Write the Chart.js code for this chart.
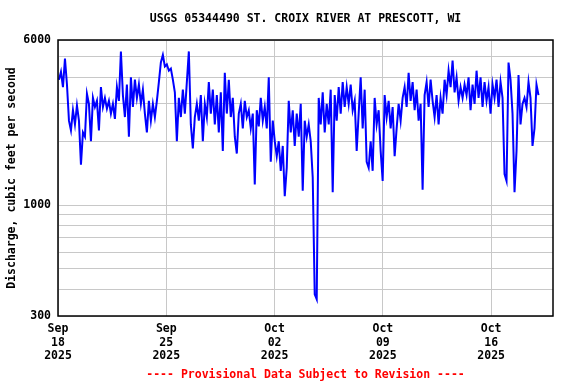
<!DOCTYPE html>
<html>
<head>
<meta charset="utf-8">
<script src="https://cdn.jsdelivr.net/npm/chart.js@4"></script>
<style>
  html, body { margin: 0; padding: 0; background: #fff; }
  #wrap { width: 576px; height: 384px; }
</style>
</head>
<body>
<div id="wrap"><canvas id="flowChart" width="576" height="384"></canvas></div>
<script>
// discharge readings (cfs), one every ~3.1 h starting Sep 18 01:30
const startHour = 1.5;
const stepHours = 3.1;
const discharge = [
  3900, 4250, 3600, 4900, 3700, 2500, 2250, 2800, 2400, 2950,
  2500, 1550, 2200, 2100, 3350, 3000, 2000, 3200, 2900, 3100,
  2250, 3600, 2900, 3200, 2850, 3100, 2700, 3000, 2550, 3600,
  3100, 5300, 3300, 2600, 3700, 2100, 4000, 2900, 3900, 3200,
  3700, 3000, 3500, 2700, 2200, 3100, 2500, 3000, 2600, 3100,
  // Sep 25 ->
  3800, 4700, 5100, 4500, 4600, 4300, 4400, 3900, 3400, 2000,
  3200, 2600, 3500, 2700, 3800, 5300, 2400, 1850, 2600, 3000,
  2500, 3300, 2000, 3000, 2600, 3800, 2700, 3500, 2400, 3300,
  2200, 3400, 1800, 4200, 2700, 3900, 2600, 3200, 2100, 1750,
  2700, 3000, 2300, 3100, 2600, 2800, 2300, 2700, 1250,
  // Oct 2 ->
  2800, 2350, 3200, 2500, 2900, 2300, 4000, 1600, 2500, 2000,
  1700, 2000, 1450, 1900, 1100, 1500, 3100, 2200, 2800, 1900,
  2700, 2100, 3000, 1170, 2500, 2100, 2400, 2000, 1350, 380,
  360, 3200, 2400, 3400, 2200, 3000, 2400, 3500, 1150, 3300,
  2500, 3600, 2700, 3800, 2900, 3600, 3000, 3700, 2800,
  // Oct 9 ->
  3100, 1800, 2700, 4000, 2300, 3500, 1600, 1500, 2000, 1450,
  3200, 2400, 2800, 1800, 1300, 3300, 2600, 3100, 2300, 2900,
  1700, 2300, 3000, 2500, 3200, 3600, 2900, 4200, 3100, 3800,
  2800, 3500, 2500, 3000, 1180, 3300, 3800, 2900, 3900, 3100,
  2600, 3300, 2400, 3200, 2700, 3900, 3300, 4300, 3600,
  // Oct 16 ->
  4800, 3400, 4000, 3100, 3600, 3200, 3700, 3300, 4000, 2800,
  3700, 3000, 4300, 3200, 4000, 2900, 3800, 3100, 3600, 2700,
  3700, 3200, 3900, 2900, 3800, 3200, 1400, 1300, 4700, 3900,
  2700, 1150, 1800, 4100, 2400, 3000, 3200, 2900, 3800, 3200,
  1900, 2300, 3700, 3300
];

// axis ticks
const xTickHours = [0, 168, 336, 504, 672];
const xTickMonths = ['Sep', 'Sep', 'Oct', 'Oct', 'Oct'];
const xTickDays = ['18', '25', '02', '09', '16'];
const xTickYears = ['2025', '2025', '2025', '2025', '2025'];
const yGridValues = [300, 400, 500, 600, 700, 800, 900, 1000, 2000, 3000, 4000, 5000, 6000];
const yLabelValues = [300, 1000, 6000];

const points = discharge.map((v, i) => ({ x: startHour + i * stepHours, y: v }));

const monoBold = { family: '"DejaVu Sans Mono", monospace', size: 11.5, weight: 'bold', lineHeight: 1.2 };

// frame round the plot, plus title and the red footer
const framePlugin = {
  id: 'frame',
  afterDraw(chart) {
    const { ctx, chartArea: a } = chart;
    ctx.save();
    ctx.strokeStyle = '#000';
    ctx.lineWidth = 1.5;
    ctx.strokeRect(a.left, a.top, a.right - a.left, a.bottom - a.top);
    const cx = (a.left + a.right) / 2;
    ctx.font = 'bold 11.5px "DejaVu Sans Mono", monospace';
    ctx.textAlign = 'center';
    ctx.textBaseline = 'middle';
    ctx.fillStyle = '#000';
    ctx.fillText('USGS 05344490 ST. CROIX RIVER AT PRESCOTT, WI', cx, 19);
    ctx.fillStyle = '#ff0000';
    ctx.fillText('---- Provisional Data Subject to Revision ----', cx, 375);
    ctx.restore();
  }
};

new Chart(document.getElementById('flowChart'), {
  type: 'line',
  data: {
    datasets: [{
      data: points,
      borderColor: '#0000ff',
      borderWidth: 2,
      pointRadius: 0,
      tension: 0,
      fill: false
    }]
  },
  options: {
    responsive: false,
    animation: false,
    layout: { padding: { left: 0, right: 23, top: 40, bottom: 0 } },
    plugins: {
      legend: { display: false },
      tooltip: { enabled: false }
    },
    scales: {
      x: {
        type: 'linear',
        min: 0,
        max: 768,
        afterBuildTicks: (s) => { s.ticks = xTickHours.map(h => ({ value: h })); },
        afterFit: (s) => { s.height = 68; },
        ticks: {
          autoSkip: false,
          maxRotation: 0,
          padding: 6,
          color: '#000',
          font: monoBold,
          callback: (v) => {
            const i = xTickHours.indexOf(v);
            return i < 0 ? '' : [xTickMonths[i], xTickDays[i], xTickYears[i]];
          }
        },
        grid: { color: '#c8c8c8', lineWidth: 1, drawTicks: false },
        border: { display: false }
      },
      y: {
        type: 'logarithmic',
        min: 300,
        max: 6000,
        afterBuildTicks: (s) => { s.ticks = yGridValues.map(v => ({ value: v })); },
        afterFit: (s) => { s.width = 58; },
        ticks: {
          autoSkip: false,
          padding: 7,
          color: '#000',
          font: monoBold,
          callback: (v) => yLabelValues.includes(v) ? String(v) : ''
        },
        grid: { color: '#c8c8c8', lineWidth: 1, drawTicks: false },
        border: { display: false },
        title: {
          display: true,
          text: 'Discharge, cubic feet per second',
          color: '#000',
          font: monoBold,
          padding: { top: 5, bottom: 0 }
        }
      }
    }
  },
  plugins: [framePlugin]
});
</script>
</body>
</html>
